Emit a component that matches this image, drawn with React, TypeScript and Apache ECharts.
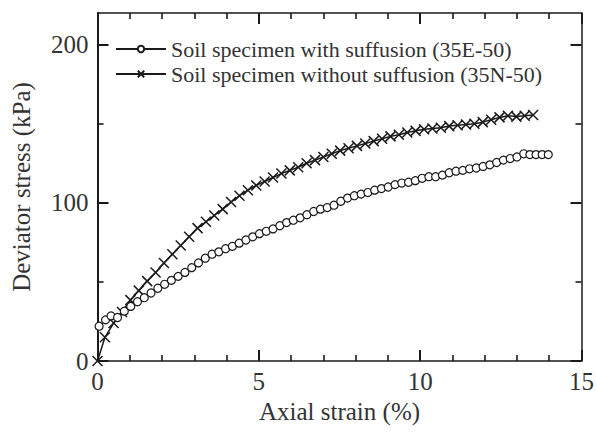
import React, { useEffect, useRef } from "react";
import * as echarts from "echarts";

// Soil specimen with suffusion (35E-50): [axial strain %, deviator stress kPa]
const withSuffusion: [number, number][] = [
  [0.05, 22.0], [0.25, 26.0], [0.42, 28.5], [0.62, 27.5], [0.83, 31.5], [1.03, 34.5],
  [1.24, 37.5], [1.45, 40.0], [1.66, 43.0], [1.87, 46.0], [2.08, 48.5], [2.29, 51.0],
  [2.5, 53.5], [2.71, 56.0], [2.92, 59.0], [3.13, 62.0], [3.34, 65.0], [3.55, 67.5],
  [3.76, 69.0], [3.97, 71.0], [4.18, 72.5], [4.39, 74.5], [4.6, 76.5], [4.81, 78.5],
  [5.02, 80.5], [5.23, 82.0], [5.44, 83.5], [5.65, 85.5], [5.86, 87.5], [6.07, 89.0],
  [6.28, 90.5], [6.49, 92.5], [6.7, 94.5], [6.91, 96.0], [7.12, 97.0], [7.33, 98.5],
  [7.54, 101.0], [7.75, 103.0], [7.96, 104.5], [8.17, 105.5], [8.38, 106.5], [8.59, 108.0],
  [8.8, 109.0], [9.01, 110.0], [9.22, 111.5], [9.43, 112.5], [9.64, 113.0], [9.85, 114.0],
  [10.06, 115.5], [10.27, 116.5], [10.48, 116.5], [10.69, 117.5], [10.9, 119.0], [11.11, 120.0],
  [11.32, 120.5], [11.53, 121.5], [11.74, 122.0], [11.95, 123.0], [12.16, 124.0], [12.37, 125.5],
  [12.58, 127.0], [12.79, 128.0], [13.0, 129.0], [13.21, 131.0], [13.4, 130.5], [13.59, 130.5],
  [13.78, 130.5], [13.97, 130.5],
];

// Soil specimen without suffusion (35N-50)
const withoutSuffusion: [number, number][] = [
  [0.0, 0.0], [0.23, 15.0], [0.5, 24.0], [0.76, 31.0], [1.02, 38.5], [1.28, 44.5],
  [1.54, 50.5], [1.8, 56.0], [2.06, 62.0], [2.32, 67.5], [2.58, 73.0], [2.84, 78.5],
  [3.1, 84.0], [3.36, 88.0], [3.62, 92.0], [3.88, 96.0], [4.14, 100.5], [4.4, 104.5],
  [4.66, 108.0], [4.92, 111.0], [5.18, 113.5], [5.44, 116.0], [5.7, 118.5], [5.96, 120.5],
  [6.22, 122.5], [6.48, 125.0], [6.74, 127.0], [7.0, 129.0], [7.26, 131.0], [7.52, 133.0],
  [7.78, 134.5], [8.04, 136.0], [8.3, 137.5], [8.56, 139.0], [8.82, 140.5], [9.08, 142.0],
  [9.34, 143.0], [9.6, 144.5], [9.86, 145.5], [10.12, 146.5], [10.38, 147.0], [10.64, 147.5],
  [10.9, 148.5], [11.16, 149.0], [11.42, 149.5], [11.68, 150.0], [11.94, 151.0], [12.2, 152.5],
  [12.46, 154.0], [12.72, 155.0], [12.98, 154.5], [13.24, 155.0], [13.5, 155.5],
];

const seriesNames = [
  "Soil specimen with suffusion (35E-50)",
  "Soil specimen without suffusion (35N-50)",
];
const xTitle = "Axial strain (%)";
const yTitle = "Deviator stress (kPa)";
const yMajorTicks = [0, 100, 200];
const yMinorTicks = [50, 150];

const FONT = "'Liberation Serif', 'Times New Roman', serif";
const INK = "#1a1a1a";
const TXT = "#333";
const CROSS = "path://M0,0L10,10M0,10L10,0";

export default function App() {
  const ref = useRef<HTMLDivElement>(null);
  useEffect(() => {
    if (!ref.current) return;
    const chart = echarts.init(ref.current, undefined, { renderer: "svg" });
    const yBase = { type: "value", min: 0, max: 220, splitLine: { show: false } };
    const majorTick = () => ({ show: true, inside: true, length: 11, lineStyle: { color: INK, width: 2 } });
    const minorTickStyle = () => ({ color: INK, width: 1.6 });
    const xBase = () => ({
      type: "value", min: 0, max: 15, interval: 5, splitLine: { show: false },
      axisTick: majorTick(),
      minorTick: { show: true, splitNumber: 5, length: 6, lineStyle: minorTickStyle() },
    });
    chart.setOption({
      animation: false,
      backgroundColor: "#fff",
      grid: { left: 97.5, right: 13, top: 13, bottom: 74, containLabel: false },
      legend: {
        left: 110, top: 33, orient: "vertical", itemWidth: 50, itemHeight: 8, itemGap: 3,
        textStyle: { fontFamily: FONT, fontSize: 22, color: TXT, lineHeight: 22 },
        data: seriesNames,
      },
      xAxis: [
        {
          ...xBase(), position: "bottom",
          axisLine: { show: true, onZero: false, lineStyle: { color: INK, width: 1.5 } },
          axisLabel: { fontFamily: FONT, fontSize: 25, color: TXT, margin: 8 },
          name: xTitle, nameLocation: "middle", nameGap: 38,
          nameTextStyle: { fontFamily: FONT, fontSize: 25, color: TXT },
        },
        {
          ...xBase(), position: "top",
          axisLine: { show: true, onZero: false, lineStyle: { color: INK, width: 1.5 } },
          axisLabel: { show: false },
        },
      ],
      yAxis: [
        {
          ...yBase, position: "left",
          axisLine: { show: true, onZero: false, lineStyle: { color: INK, width: 2 } },
          axisTick: { ...majorTick(), customValues: yMajorTicks },
          axisLabel: { customValues: yMajorTicks, fontFamily: FONT, fontSize: 25, color: TXT, margin: 9 },
          name: yTitle, nameLocation: "middle", nameGap: 64, nameRotate: 90,
          nameTextStyle: { fontFamily: FONT, fontSize: 25, color: TXT },
        },
        {
          ...yBase, position: "left",
          axisLine: { show: false, onZero: false },
          axisTick: { show: true, inside: true, length: 6, customValues: yMinorTicks, lineStyle: minorTickStyle() },
          axisLabel: { show: false },
        },
        {
          ...yBase, position: "right",
          axisLine: { show: true, onZero: false, lineStyle: { color: INK, width: 1.5 } },
          axisTick: { ...majorTick(), customValues: yMajorTicks },
          axisLabel: { show: false },
        },
        {
          ...yBase, position: "right",
          axisLine: { show: false, onZero: false },
          axisTick: { show: true, inside: true, length: 6, customValues: yMinorTicks, lineStyle: minorTickStyle() },
          axisLabel: { show: false },
        },
      ],
      series: [
        {
          name: seriesNames[0], type: "line", xAxisIndex: 0, yAxisIndex: 0,
          data: withSuffusion, symbol: "circle", symbolSize: 8, showAllSymbol: true,
          lineStyle: { color: INK, width: 1.2 },
          itemStyle: { color: "#fff", borderColor: INK, borderWidth: 1.2 },
          z: 3,
        },
        {
          name: seriesNames[1], type: "line", xAxisIndex: 0, yAxisIndex: 0,
          data: withoutSuffusion, symbol: CROSS, symbolSize: 10, showAllSymbol: true,
          lineStyle: { color: INK, width: 1.5 },
          itemStyle: { color: "none", borderColor: INK, borderWidth: 1.5 },
          z: 2,
        },
      ],
    });
    return () => chart.dispose();
  }, []);
  return (
    <div
      ref={ref}
      style={{ position: "fixed", left: 0, top: 0, width: 597, height: 435, background: "#fff" }}
    />
  );
}
